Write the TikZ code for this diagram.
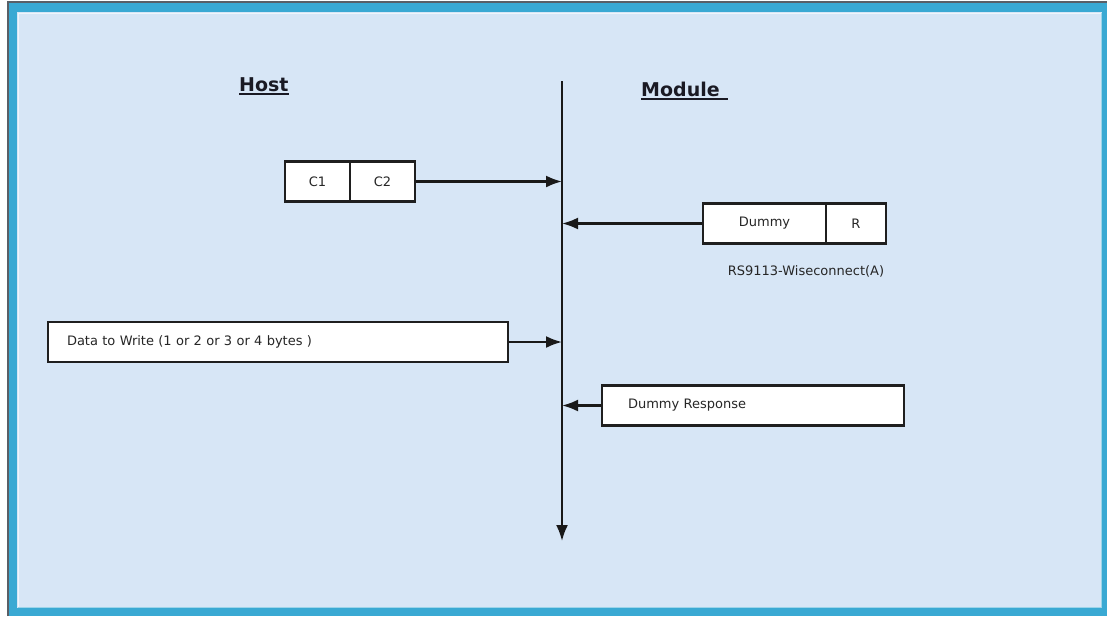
\documentclass[tikz,border=0pt]{standalone}
\usepackage{fontspec}
\setmainfont{DejaVu Sans}
\usetikzlibrary{arrows.meta}
\definecolor{frameblue}{HTML}{3AA9D3}
\definecolor{bgblue}{HTML}{D7E6F6}
\definecolor{txt}{HTML}{262626}
\definecolor{titlecol}{HTML}{1A1A24}
\definecolor{edgegray}{HTML}{5A5F66}
\begin{document}
\begin{tikzpicture}[x=1pt,y=-1pt,
  box/.style={draw=black!88, line width=2.2pt, fill=white, minimum height=40pt,
    inner sep=0pt, font=\fontsize{13}{15}\selectfont, text=txt},
  arr/.style={line width=2.2pt, draw=black!90, -{Latex[length=16pt,width=12pt]}},
  title/.style={anchor=base west, inner sep=0pt, font=\bfseries\fontsize{19}{22}\selectfont, text=titlecol},
  uline/.style={line width=1.8pt, draw=titlecol},
  lbl/.style={font=\fontsize{13}{15}\selectfont, text=txt, inner sep=0pt}
]
\useasboundingbox (0,0) rectangle (1107,616);
% frame
\fill[white] (0,0) rectangle (1107,616);
\fill[frameblue] (9,3) rectangle (1107,616);
\draw[edgegray, line width=1.2pt] (8,616) -- (8,2) -- (1107,2);
\fill[bgblue] (17,12) rectangle (1102,608);
\draw[white!60!bgblue, line width=1.2pt] (18.5,606.5) -- (18.5,13.5) -- (1100.5,13.5);
\draw[white!50!frameblue, line width=1pt] (18,607) -- (1101,607) -- (1101,13);

% titles
\node[title] (host) at (239,91) {Host};
\draw[uline] ([yshift=-3pt]host.base west) -- ([yshift=-3pt]host.base east);
\node[title] (module) at (641,96) {Module};
\draw[uline] ([yshift=-3pt]module.base west) -- ([yshift=-3pt,xshift=8pt]module.base east);

% lifeline
\coordinate (ltop) at (562,81);
\coordinate (lbot) at (562,541);
\draw[arr] (ltop) -- (lbot);

% C1 C2
\node[box, minimum width=65pt] (c1) at (317.5,181.5) {C1};
\node[box, minimum width=65pt] (c2) at (382.5,181.5) {C2};
\draw[arr] (c2.east) -- (c2.east -| ltop);

% Dummy R
\node[box, minimum width=123pt] (dummy) at (764.5,223.5) {Dummy};
\node[box, minimum width=60pt] (r) at (856,223.5) {R};
\draw[arr] (dummy.west) -- (dummy.west -| ltop);
\node[lbl] (cap) at (806,271) {RS9113-Wiseconnect(A)};

% Data to write
\node[box, inner xsep=19pt, text width=422pt, align=left] (data) at (278,342) {Data to Write (1 or 2 or 3 or 4 bytes )};
\draw[arr] (data.east) -- (data.east -| ltop);

% Dummy response
\node[box, inner xsep=26pt, text width=250pt, align=left] (resp) at (753,405.5) {Dummy Response};
\draw[arr] (resp.west) -- (resp.west -| ltop);
\end{tikzpicture}
\end{document}
